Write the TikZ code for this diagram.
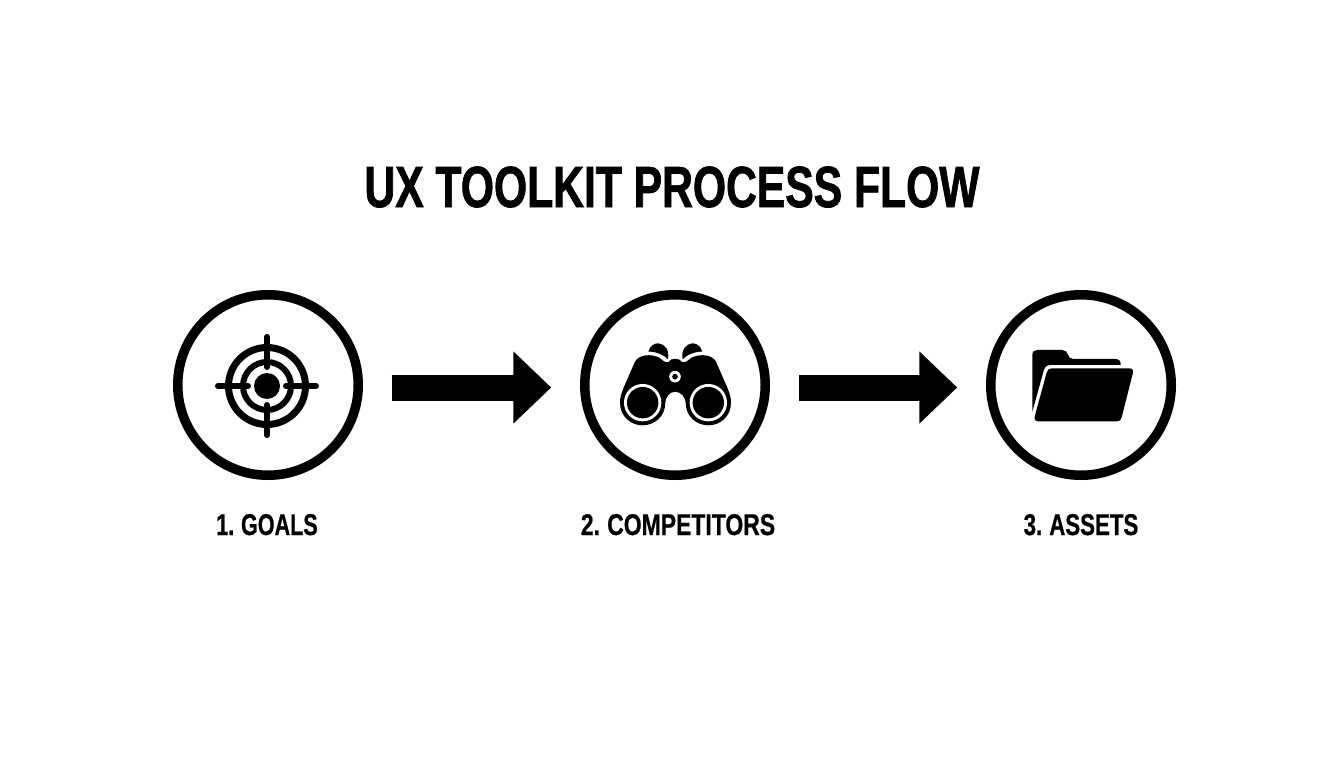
\documentclass[tikz,border=0pt]{standalone}
\usepackage{fontspec}
\setmainfont{Liberation Sans}
\newfontface\titlefont{Liberation Sans Bold}[FakeStretch=0.735,FakeBold=1.2]
\newfontface\labelfont{Liberation Sans Bold}[FakeStretch=0.765,FakeBold=0.6,WordSpace=0.8]
\usetikzlibrary{arrows.meta}
\tikzset{
  ring/.style={circle,draw=black,line width=9.5pt,minimum size=180.5pt,inner sep=0pt,outer sep=0pt,fill=white},
  flow/.style={line width=26pt,draw=black,-{Triangle[length=38pt,width=70pt]},shorten <=33.5pt,shorten >=33.5pt},
  steplabel/.style={font=\labelfont\fontsize{30}{32}\selectfont,anchor=base,inner sep=0pt},
  titlelabel/.style={font=\titlefont\fontsize{58}{60}\selectfont,anchor=base,inner sep=0pt},
  tick/.style={line width=6pt,line cap=round,draw=black},
  iconpx/.style={x=0.3333pt,y=-0.3333pt}
}
\begin{document}
\begin{tikzpicture}[x=1pt,y=-1pt]
\useasboundingbox (0,0) rectangle (1344,768);
\fill[white] (0,0) rectangle (1344,768);
\node[titlelabel] (title) at (672,207) {UX TOOLKIT PROCESS FLOW};
\node[ring] (c1) at (268,385) {};
\node[ring] (c2) at (675,385) {};
\node[ring] (c3) at (1081,385) {};
\draw[flow] ([yshift=-2.5pt]c1.east) -- ([yshift=-2.5pt]c2.west);
\draw[flow] ([yshift=-2.5pt]c2.east) -- ([yshift=-2.5pt]c3.west);
\node[steplabel,xscale=0.94] (l1) at (267,535) {1. GOALS};
\node[steplabel] (l2) at (678,535) {2. COMPETITORS};
\node[steplabel,xscale=0.97] (l3) at (1081,535) {3. ASSETS};
% target
\begin{scope}[shift={(267,386)}]
\draw[line width=7pt] (0,0) circle (38.5pt);
\draw[line width=6pt] (0,0) circle (24pt);
\fill (0,0) circle (13pt);
\draw[tick] (0,-49) -- (0,-19);
\draw[tick] (0,49) -- (0,19);
\draw[tick] (-49,0) -- (-19,0);
\draw[tick] (49,0) -- (19,0);
\end{scope}
% binoculars
\begin{scope}[shift={(570,280)},iconpx]
\fill (150,368) .. controls (150,350) and (155,340) .. (160,325)
  -- (195,245) .. controls (207,224) and (240,220) .. (268,233)
  .. controls (278,240) and (285,250) .. (296,246)
  .. controls (300,233) and (330,233) .. (336,246)
  .. controls (347,250) and (355,240) .. (365,233)
  .. controls (393,220) and (426,224) .. (438,245)
  -- (473,325) .. controls (478,340) and (483,350) .. (483,368)
  .. controls (483,410) and (450,436) .. (415,436)
  .. controls (380,436) and (347,410) .. (347,368)
  .. controls (347,355) and (335,335) .. (315,335)
  .. controls (297,335) and (286,355) .. (286,368)
  .. controls (286,410) and (253,436) .. (218,436)
  .. controls (183,436) and (150,410) .. (150,368) -- cycle;
\fill[white] (218,368) circle (18.7pt);
\fill[black] (218,368) circle (15.7pt);
\fill[white] (415,368) circle (18.7pt);
\fill[black] (415,368) circle (15.7pt);
\fill[white] (315,290) circle (5.8pt);
\fill[black] (315,290) circle (2.8pt);
\fill (235,215) .. controls (240,195) and (255,190) .. (265,190)
  .. controls (285,192) and (299,210) .. (294,238)
  .. controls (284,226) and (258,214) .. (235,215) -- cycle;
\fill (397,215) .. controls (392,195) and (377,190) .. (367,190)
  .. controls (347,192) and (333,210) .. (338,238)
  .. controls (348,226) and (374,214) .. (397,215) -- cycle;
\end{scope}
% folder
\begin{scope}[shift={(975,280)},iconpx]
\fill (172,395) -- (172,225) .. controls (172,215) and (178,210) .. (186,210)
  -- (262,210) .. controls (272,210) and (276,216) .. (279,224)
  .. controls (282,232) and (285,237) .. (295,237)
  -- (425,237) .. controls (433,237) and (438,245) .. (437,255)
  -- (228,255) .. controls (215,255) and (210,260) .. (206,272) -- cycle;
\fill (230,265) -- (465,265) .. controls (472,265) and (476,270) .. (474,278)
  -- (440,412) .. controls (438,420) and (434,424) .. (426,424)
  -- (188,424) .. controls (180,424) and (176,418) .. (179,410)
  -- (215,278) .. controls (217,270) and (222,265) .. (230,265) -- cycle;
\end{scope}
\end{tikzpicture}
\end{document}
